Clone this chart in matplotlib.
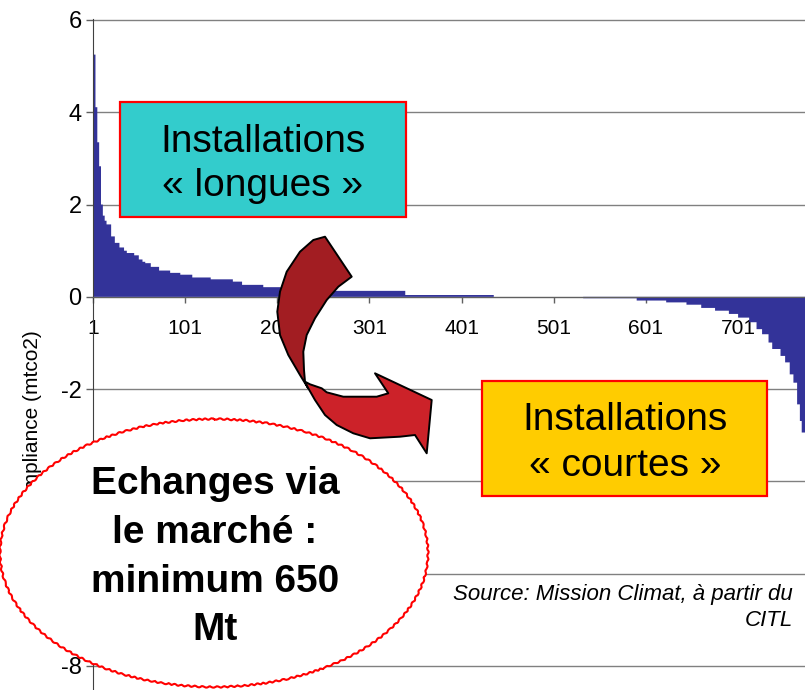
import numpy as np
import matplotlib
matplotlib.use("Agg")
import matplotlib.pyplot as plt
from matplotlib.patches import Rectangle, Ellipse, Polygon

plt.rcParams['font.family'] = ['Liberation Sans', 'DejaVu Sans']
plt.rcParams['axes.unicode_minus'] = False

# compliance per installation, sorted, read as steps (last index of step, value in MtCO2)
seg_end = [3, 5, 7, 9, 11, 13, 15, 20, 24, 29, 34, 37, 45, 50, 54, 57, 63, 72, 84, 95,
           108, 128, 152, 162, 185, 204, 232, 262, 339, 435, 532,
           590, 622, 644, 660, 675, 690, 700, 712, 720, 726, 733, 737, 746, 751, 756,
           760, 764, 767, 769, 773]
seg_val = [5.25, 4.11, 3.35, 2.83, 2.00, 1.76, 1.65, 1.57, 1.31, 1.17, 1.07, 1.00, 0.95,
           0.90, 0.81, 0.76, 0.73, 0.65, 0.57, 0.52, 0.48, 0.42, 0.38, 0.33, 0.26, 0.21,
           0.18, 0.15, 0.13, 0.04, 0.0,
           -0.03, -0.08, -0.12, -0.17, -0.24, -0.30, -0.37, -0.45, -0.55, -0.70, -0.81,
           -0.99, -1.13, -1.28, -1.42, -1.68, -1.86, -2.33, -2.69, -2.94]

x_ticks = [1, 101, 201, 301, 401, 501, 601, 701]
y_ticks = [-8, -6, -4, -2, 0, 2, 4, 6]

ylabel = "Compliance (mtco2)"
box_long = ["Installations", "\u00ab longues \u00bb"]
box_short = ["Installations", "\u00ab courtes \u00bb"]
bubble = ["Echanges via", "le march\u00e9 :", "minimum 650", "Mt"]
source = ["Source: Mission Climat, \u00e0 partir du", "CITL"]

# expand steps into one value per installation
counts = np.diff([0] + seg_end)
values = np.repeat(seg_val, counts)
edges = np.arange(1, len(values) + 2)

W, H = 805, 690
fig = plt.figure(figsize=(W / 100, H / 100), dpi=100)

# main chart, placed in pixels: y axis at x=93, 6 at y=20, -8 at y=666
x0 = 92.7
px_per_unit = 0.922
ppy = (666 - 20) / 14.0
ax = fig.add_axes([x0 / W, 0, 1 - x0 / W, (H - 20 + 1) / H])
ax.set_xlim(1, 1 + (W - x0) / px_per_unit)
ax.set_ylim(-8 - (H - 666) / ppy, 6 + 1 / ppy)

# one bar per installation, drawn as a filled step outline so the thin bars don't streak
ax.stairs(values, edges, baseline=0, fill=True, color='#333399', zorder=2)

ax.set_yticks(y_ticks)
ax.set_xticks(x_ticks)
ax.grid(axis='y', color='#808080', linewidth=1.0, zorder=0)
ax.set_axisbelow(True)

for s in ['top', 'right']:
    ax.spines[s].set_visible(False)
ax.spines['bottom'].set_position(('data', 0))
ax.spines['bottom'].set_color('#606060')
ax.spines['bottom'].set_zorder(3)
ax.spines['left'].set_color('#404040')

ax.tick_params(axis='y', direction='out', length=5, width=1, color='#606060',
               pad=3, labelsize=17)
ax.tick_params(axis='x', direction='out', length=4, width=1, color='#606060',
               pad=12, labelsize=15)

# overlay in pixel coordinates for the annotations
ov = fig.add_axes([0, 0, 1, 1], zorder=5)
ov.set_xlim(0, W)
ov.set_ylim(H, 0)
ov.axis('off')

ov.text(33, 330, ylabel, rotation=90, ha='center', va='top', fontsize=15, zorder=1)

# cyan box
ov.add_patch(Rectangle((120, 101.7), 286, 115, fc='#33CCCC', ec='#FF0000', lw=1.6, zorder=2))
for txt, yb in zip(box_long, [151.5, 196.5]):
    ov.text(263, yb, txt, ha='center', va='baseline', fontsize=28, zorder=3)

# yellow box
ov.add_patch(Rectangle((482, 381), 285, 115, fc='#FFCC00', ec='#FF0000', lw=1.6, zorder=2))
for txt, yb in zip(box_short, [430, 476.5]):
    ov.text(625, yb, txt, ha='center', va='baseline', fontsize=28, zorder=3)

# source note
for txt, yb in zip(source, [600, 626.5]):
    ov.text(793, yb, txt, ha='right', va='baseline', fontsize=16, style='italic', zorder=3)

# bubble with a slightly hand-drawn red outline
ell = Ellipse((214, 553), 428, 268, fc='white', ec='#FF0000', lw=1.5, zorder=4)
ell.set_sketch_params(scale=0.7, length=7, randomness=1.5)
ov.add_patch(ell)
for txt, yb in zip(bubble, [494, 543, 591.5, 640.5]):
    ov.text(215, yb, txt, ha='center', va='baseline', fontsize=28, weight='bold', zorder=7)

# curved arrow, upper dark part and lower light part
dark = [(325, 236.7), (351.7, 276.7), (338.3, 286.7), (326.7, 300), (315, 318.3),
        (306.7, 335), (303.3, 351.7), (304, 370), (305, 381.7), (308, 388),
        (300, 375), (288.3, 355), (280, 335), (277.3, 311.7), (280, 291.7),
        (286.7, 271.7), (300, 251.7), (313.3, 240)]
light = [(305, 381.7), (310, 384.3), (321.7, 388.3), (326.7, 392.3), (343.3, 396.7),
         (376.7, 396.7), (388.3, 393.3), (375, 373.3), (431.7, 400), (426.7, 453.3),
         (415, 435), (400, 436.7), (370, 438.3), (353.3, 433.3), (336.7, 425),
         (325, 415), (315, 400), (308.3, 388.3)]
ov.add_patch(Polygon(dark, closed=True, fc='#A21D22', ec='black', lw=1.4,
                     joinstyle='round', zorder=5))
ov.add_patch(Polygon(light, closed=True, fc='#CC2229', ec='black', lw=1.4,
                     joinstyle='round', zorder=6))

fig.savefig("out.png", dpi=100)
